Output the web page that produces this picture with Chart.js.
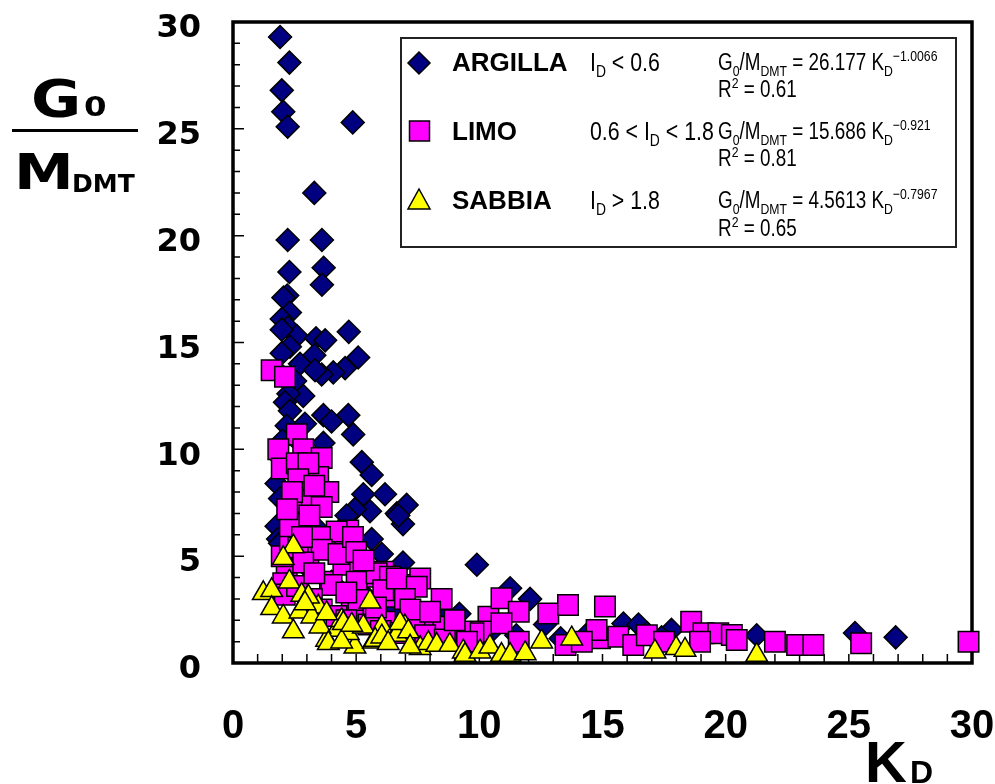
<!DOCTYPE html>
<html>
<head>
<meta charset="utf-8">
<script src="https://cdn.jsdelivr.net/npm/chart.js@4"></script>
<style>
  body { margin: 0; background: #fff; }
  #wrap { position: relative; width: 995px; height: 784px; }
  .t { position: absolute; white-space: nowrap; color: #000; line-height: 1; }
  .bold { font-family: 'Liberation Sans', Arial, sans-serif; font-weight: bold; }
  .narrow { font-family: 'Liberation Sans', Arial, sans-serif; transform: scaleX(0.82); transform-origin: 0 0; }
  .big { font-family: 'DejaVu Sans', sans-serif; font-weight: bold; transform: scaleX(1.2); transform-origin: 0 0; }
  .narrow sub, .narrow sup { font-size: 65%; line-height: 0; }
  #legend { position: absolute; left: 400px; top: 37px; width: 553px; height: 207px; border: 2px solid #222; }
</style>
</head>
<body>
<div id="wrap">
  <canvas id="chart" width="995" height="784"></canvas>

  <!-- y axis title: G0 / M_DMT -->
  <div class="t big" style="left:31px; top:74px; font-size:51px;">G</div>
  <div class="t big" style="left:84px; top:93px; font-size:27px;">0</div>
  <div style="position:absolute; left:12px; top:129px; width:126px; height:3px; background:#000;"></div>
  <div class="t big" style="left:14px; top:147px; font-size:50px;">M</div>
  <div class="t big" style="left:72px; top:171px; font-size:25px; transform:scaleX(1)">DMT</div>
  <!-- x axis title: K_D -->
  <div class="t bold" style="left:865px; top:733px; font-size:58px;">K</div>
  <div class="t bold" style="left:910px; top:756px; font-size:32px;">D</div>

  <div id="legend">
    <svg style="position:absolute; left:0; top:0" width="60" height="210">
      <polygon points="17,13 28,24 17,35 6,24" fill="#000080" stroke="#000" stroke-width="1.5"/>
      <rect x="7.5" y="82" width="20" height="20" fill="#ff00ff" stroke="#000" stroke-width="1.5"/>
      <polygon points="17,150 28,170 6,170" fill="#ffff00" stroke="#000" stroke-width="1.5"/>
    </svg>
    <div class="t bold" style="left:50px; top:10px; font-size:26px;">ARGILLA</div>
    <div class="t bold" style="left:50px; top:79px; font-size:26px;">LIMO</div>
    <div class="t bold" style="left:50px; top:148px; font-size:26px;">SABBIA</div>
    <div class="t narrow" style="left:188px; top:10px; font-size:26px;">I<sub>D</sub> &lt; 0.6</div>
    <div class="t narrow" style="left:188px; top:79px; font-size:26px;">0.6 &lt; I<sub>D</sub> &lt; 1.8</div>
    <div class="t narrow" style="left:188px; top:148px; font-size:26px;">I<sub>D</sub> &gt; 1.8</div>
    <div class="t narrow" style="left:316px; top:12px; font-size:23px;">G<sub>0</sub>/M<sub>DMT</sub> = 26.177 K<sub>D</sub><sup>−1.0066</sup></div>
    <div class="t narrow" style="left:316px; top:39px; font-size:23px;">R<sup>2</sup> = 0.61</div>
    <div class="t narrow" style="left:316px; top:81px; font-size:23px;">G<sub>0</sub>/M<sub>DMT</sub> = 15.686 K<sub>D</sub><sup>−0.921</sup></div>
    <div class="t narrow" style="left:316px; top:108px; font-size:23px;">R<sup>2</sup> = 0.81</div>
    <div class="t narrow" style="left:316px; top:150px; font-size:23px;">G<sub>0</sub>/M<sub>DMT</sub> = 4.5613 K<sub>D</sub><sup>−0.7967</sup></div>
    <div class="t narrow" style="left:316px; top:178px; font-size:23px;">R<sup>2</sup> = 0.65</div>
  </div>
</div>

<script>
// values (K_D, G0/M_DMT)
const argillaX = [1.91, 2.29, 1.98, 2.04, 2.22, 4.86, 3.30, 2.22, 3.61, 2.29, 3.68, 3.61, 2.20, 2.05, 2.31, 1.98,
  2.23, 2.59, 1.98, 4.70, 3.37, 3.74, 2.31, 1.98, 5.08, 3.30, 2.72, 4.55, 4.07, 3.60, 3.33, 2.52, 2.85, 2.25, 2.04,
  2.11, 2.31, 3.67, 4.00, 4.68, 4.88, 2.18, 2.45, 2.92, 3.67, 5.23, 5.63, 5.29, 6.17, 5.56, 4.95, 6.65, 5.63, 6.04,
  1.77, 1.77, 1.83, 4.61, 7.05, 6.90, 6.71, 6.90, 9.90, 11.25, 12.06, 12.67, 13.3, 15.85, 16.46, 17.05, 17.8, 17.4,
  9.19, 21.26, 25.25, 26.9, 1.91, 1.91, 2.0, 2.0, 3.0, 4.0, 5.5, 6.5, 7.5, 8.5, 10.5, 11.5, 14.5, 16.8,
  2.7, 3.2, 2.5, 3.5];
const argillaY = [29.3, 28.1, 26.8, 25.8, 25.1, 25.3, 22.0, 19.8, 19.8, 18.3, 18.5, 17.7, 17.2, 17.1, 16.4, 16.1,
  15.7, 15.3, 15.6, 15.5, 15.2, 15.1, 14.8, 14.5, 14.3, 14.4, 14.0, 13.8, 13.6, 13.5, 13.7, 13.2, 12.5, 12.6, 13.4,
  12.2, 11.8, 11.6, 11.3, 11.6, 10.7, 11.1, 10.6, 11.2, 10.3, 9.4, 8.8, 7.9, 7.9, 7.1, 7.2, 7.0, 5.8, 5.1,
  8.4, 6.4, 5.8, 6.9, 7.4, 6.5, 6.9, 4.7, 4.6, 3.5, 3.0, 1.8, 1.15, 1.85, 1.8, 1.2, 1.55, 1.2,
  2.3, 1.3, 1.4, 1.2, 7.7, 5.6, 9.5, 10.4, 4.5, 3.8, 3.0, 2.5, 2.2, 2.0, 1.5, 1.3, 1.5, 1.4,
  9.0, 8.2, 7.0, 6.2];

const limoX = [1.57, 2.11, 2.59, 1.84, 2.85, 3.60, 1.98, 2.72, 3.46, 2.59, 3.06, 2.65, 3.87, 2.38, 3.2, 3.6, 2.38,
  2.92, 4.34, 3.94, 4.55, 2.18, 3.06, 3.94, 4.82, 5.56, 6.1, 6.65, 7.26, 7.6, 5.29, 6.58, 2.04, 1.98, 2.31, 2.65,
  3.46, 4.68, 4.21, 3.53, 4.48, 5.16, 5.02, 2.31, 3.1, 3.6, 4.28, 2.85, 4.0, 5.83, 6.37, 6.1, 6.65, 7.46, 6.98,
  8.47, 5.09, 6.17, 7.46, 8.2, 8.8, 5.7, 4.87, 10.37, 10.9, 11.6, 12.8, 13.6, 15.1, 18.6, 8.54, 10.1, 10.9, 11.6,
  13.5, 14.9, 15.64, 16.25, 14.76, 9.76, 9.22, 14.16, 19.1, 19.7, 20.25, 20.45, 22.0, 22.9, 23.56, 25.5, 29.86,
  18.96, 2.1, 2.6, 3.2, 3.6, 4.2, 4.6, 5.5, 6.0, 6.8, 7.8, 8.6, 9.5, 5.0, 5.3, 2.4, 3.3, 2.2, 2.8, 3.3, 4.6, 5.8,
  7.2, 8.0, 9.0, 16.8, 17.5];
const limoY = [13.7, 13.4, 10.7, 10.0, 10.0, 9.6, 9.1, 8.8, 8.7, 9.35, 9.35, 8.6, 8.0, 7.55, 7.6, 7.3, 6.5,
  6.5, 5.1, 5.4, 5.75, 4.35, 4.74, 3.8, 2.8, 4.04, 4.27, 3.57, 3.65, 3.96, 2.17, 3.1, 3.73, 5.0, 5.76, 5.4,
  5.6, 6.2, 6.15, 5.9, 4.6, 4.5, 3.8, 6.4, 6.9, 5.3, 5.1, 4.7, 3.65, 4.2, 4.04, 3.4, 3.96, 3.57, 3.0,
  3.0, 2.95, 1.93, 1.86, 1.7, 1.54, 2.09, 5.9, 2.17, 3.03, 2.4, 2.32, 2.71, 2.64, 1.93, 1.7, 1.47, 1.86, 1.0,
  0.84, 1.16, 1.23, 0.84, 1.54, 1.39, 1.47, 1.0, 1.39, 1.39, 1.31, 1.08, 1.0, 0.84, 0.84, 0.92, 1.0,
  1.0, 3.2, 3.6, 3.0, 2.5, 2.2, 2.0, 1.8, 1.5, 1.4, 1.3, 1.1, 1.0, 5.2, 4.8, 8.0, 8.3, 7.2, 5.9, 4.2, 3.3, 2.6,
  2.5, 2.4, 2.0, 1.3, 1.0];

const sabbiaX = [2.45, 2.04, 2.29, 1.23, 1.57, 1.57, 2.04, 2.45, 2.72, 3.13, 3.46, 2.79, 3.8, 4.21, 4.41, 4.95,
  5.56, 5.7, 6.04, 6.71, 6.98, 7.6, 3.2, 3.53, 4.68, 3.06, 3.87, 4.41, 5.29, 5.77, 6.04, 6.65, 4.48, 2.92, 3.8,
  4.82, 6.78, 7.12, 7.93, 8.27, 8.8, 9.35, 6.3, 7.19, 9.42, 10.03, 10.43, 10.9, 11.25, 11.86, 12.53, 13.75, 17.13,
  17.99, 18.35, 21.26];
const sabbiaY = [5.45, 4.9, 3.8, 3.26, 3.4, 2.56, 2.17, 1.47, 2.4, 2.87, 2.63, 3.18, 1.08, 1.54, 2.0, 0.76,
  2.87, 1.0, 1.7, 1.47, 1.7, 0.69, 2.17, 1.7, 1.39, 3.1, 0.92, 1.0, 1.7, 1.08, 1.23, 1.31, 1.86, 2.79, 2.32,
  1.78, 1.86, 1.47, 0.92, 0.84, 0.84, 0.53, 0.92, 0.76, 0.37, 0.53, 0.76, 0.37, 0.37, 0.45, 1.0, 1.14, 0.53,
  0.69, 0.61, 0.37];

const xTicks = [0, 5, 10, 15, 20, 25, 30];
const yTicks = [0, 5, 10, 15, 20, 25, 30];

function toPoints(xs, ys) {
  return xs.map((x, i) => ({ x: x, y: ys[i] }));
}

// frame + inward minor ticks, drawn under the markers
const frameTicks = {
  id: 'frameTicks',
  beforeDatasetsDraw(chart) {
    const { ctx, chartArea: a, scales: { x, y } } = chart;
    ctx.save();
    ctx.strokeStyle = '#000';
    ctx.lineWidth = 1.5;
    ctx.beginPath();
    for (let v = 1; v < 30; v++) {
      const py = y.getPixelForValue(v);
      const len = v % 5 === 0 ? 11 : 7;
      ctx.moveTo(a.left, py);
      ctx.lineTo(a.left + len, py);
      const px = x.getPixelForValue(v);
      ctx.moveTo(px, a.bottom);
      ctx.lineTo(px, a.bottom - 9);
    }
    ctx.stroke();
    ctx.lineWidth = 3.5;
    ctx.strokeRect(a.left, a.top, a.right - a.left, a.bottom - a.top);
    ctx.restore();
  }
};

new Chart(document.getElementById('chart'), {
  type: 'scatter',
  data: {
    datasets: [
      { label: 'SABBIA', data: toPoints(sabbiaX, sabbiaY), order: 0, pointStyle: 'triangle', pointRadius: 12.5,
        backgroundColor: '#ffff00', borderColor: '#000', borderWidth: 1.5, clip: false },
      { label: 'LIMO', data: toPoints(limoX, limoY), order: 1, pointStyle: 'rect', pointRadius: 14.5,
        backgroundColor: '#ff00ff', borderColor: '#000', borderWidth: 1.5, clip: false },
      { label: 'ARGILLA', data: toPoints(argillaX, argillaY), order: 2, pointStyle: 'rectRot', pointRadius: 11.5,
        backgroundColor: '#000080', borderColor: '#000', borderWidth: 1.5, clip: false }
    ]
  },
  options: {
    responsive: false,
    animation: false,
    layout: { padding: 0 },
    plugins: { legend: { display: false }, tooltip: { enabled: false } },
    scales: {
      x: {
        min: 0, max: 30,
        afterBuildTicks: s => { s.ticks = xTicks.map(v => ({ value: v })); },
        afterFit: s => { s.height = 121; s.paddingRight = 23; s.paddingLeft = 0; },
        grid: { display: false, drawTicks: true, tickLength: 40 },
        border: { display: false },
        ticks: { color: '#000', padding: 0, maxRotation: 0,
          font: { family: "'Liberation Sans', Arial, sans-serif", size: 40, weight: 'bold' } }
      },
      y: {
        min: 0, max: 30,
        afterBuildTicks: s => { s.ticks = yTicks.map(v => ({ value: v })); },
        afterFit: s => { s.width = 233; s.paddingTop = 22; s.paddingBottom = 0; },
        grid: { display: false, drawTicks: true, tickLength: 32 },
        border: { display: false },
        ticks: { color: '#000', padding: 0, labelOffset: 7,
          font: { family: "'DejaVu Sans', sans-serif", size: 32, weight: 'bold' } }
      }
    }
  },
  plugins: [frameTicks]
});
</script>
</body>
</html>
